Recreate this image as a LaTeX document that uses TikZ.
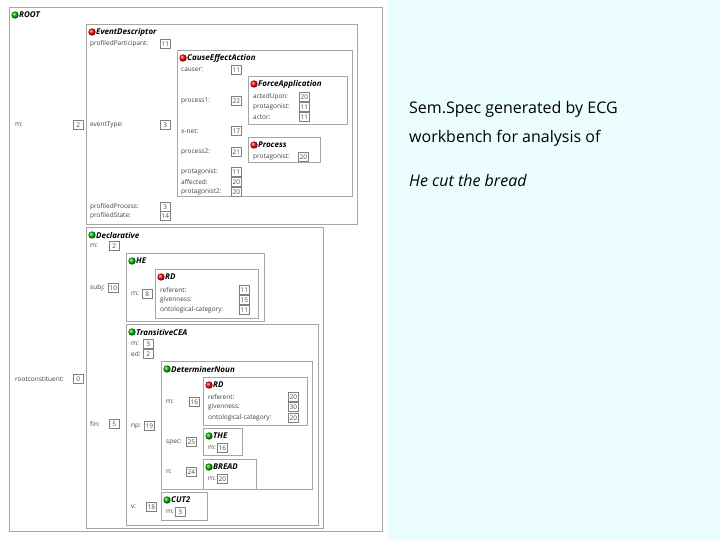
\documentclass[tikz,border=0pt]{standalone}
\usepackage{fontspec}
\setmainfont{Open Sans}
\begin{document}
\begin{tikzpicture}[x=1pt,y=-1pt,
  fbox/.style={draw=black!35,line width=0.8pt},
  lab/.style={anchor=west,inner sep=0pt,font=\fontsize{6.5}{7.5}\selectfont,text=black!75},
  val/.style={anchor=west,draw=black!50,line width=0.6pt,inner sep=1pt,minimum width=10pt,minimum height=8.5pt,font=\fontsize{6.5}{7.5}\selectfont,text=black!70},
  ttl/.style={anchor=west,inner sep=0pt,font=\fontsize{8}{9}\selectfont\bfseries\itshape},
  big/.style={anchor=west,inner sep=0pt,font=\fontsize{16}{19}\selectfont}]
\useasboundingbox (0,0) rectangle (720,540);
\fill[white] (0,0) rectangle (388,540);
\fill[blue!10!cyan!8] (388,0) rectangle (720,540);
\newcommand\frm[6]{% name x1 y1 x2 y2 color
  \draw[fbox] (#2,#3) rectangle (#4,#5);
  \shade[ball color=#6] (#2+6,#3+8) circle (3.7pt);
  \node[ttl] (#1) at (#2+10,#3+8) {#1};}
\newcommand\row[6]{% name x y label vx val
  \node[lab] (#1l) at (#2,#3) {#4};
  \node[val] (#1v) at (#5,#3) {#6};}
% ROOT
\draw[fbox] (9,7) rectangle (382,531);
\shade[ball color=green!70!black] (15,15) circle (3.7pt);
\node[ttl] (ROOT) at (19,15) {ROOT};
\row{rm}{15}{125}{m:}{73}{2}
\row{rc}{15}{379}{rootconstituent:}{73}{0}
% EventDescriptor
\frm{EventDescriptor}{86}{24}{357}{224}{red}
\row{pp}{90}{44}{profiledParticipant:}{160}{11}
\row{et}{90}{125}{eventType:}{160}{3}
\row{pr}{90}{207}{profiledProcess:}{160}{3}
\row{ps}{90}{216}{profiledState:}{160}{14}
\frm{CauseEffectAction}{177}{50}{352}{196}{red}
\row{ca}{181}{70}{causer:}{231}{11}
\row{p1}{181}{101}{process1:}{231}{22}
\row{xn}{181}{131}{x-net:}{231}{17}
\row{p2}{181}{152}{process2:}{231}{21}
\row{pt}{181}{172}{protagonist:}{231}{11}
\row{af}{181}{182}{affected:}{231}{20}
\row{pt2}{181}{192}{protagonist2:}{231}{20}
\frm{ForceApplication}{248}{76}{347}{124}{red}
\row{au}{253}{97}{actedUpon:}{299}{20}
\row{fp}{253}{107}{protagonist:}{299}{11}
\row{ac}{253}{117}{actor:}{299}{11}
\frm{Process}{248}{137}{320}{162}{red}
\row{prp}{253}{157}{protagonist:}{298}{20}
% Declarative
\frm{Declarative}{86}{227}{323}{528}{green!70!black}
\row{dm}{90}{246}{m:}{109}{2}
\row{sj}{90}{288}{subj:}{108}{10}
\row{fn}{90}{424}{fin:}{109}{5}
\frm{HE}{126}{253}{264}{321}{green!70!black}
\row{hm}{131}{294}{m:}{142}{8}
\frm{RD}{155}{269}{258}{318}{red}
\row{r1}{160}{290}{referent:}{239}{11}
\row{r2}{160}{300}{givenness:}{239}{15}
\row{r3}{160}{310}{ontological-category:}{239}{11}
\frm{TransitiveCEA}{126}{324}{318}{525}{green!70!black}
\row{tm}{131}{344}{m:}{143}{3}
\row{te}{131}{354}{ed:}{143}{2}
\row{np}{131}{426}{np:}{144}{19}
\row{tv}{131}{507}{v:}{146}{18}
\frm{DeterminerNoun}{161}{361}{312}{489}{green!70!black}
\row{dn}{166}{402}{m:}{189}{16}
\row{sp}{166}{442}{spec:}{186}{25}
\row{nn}{166}{472}{n:}{186}{24}
\draw[fbox] (203,377) rectangle (307,425);
\shade[ball color=red] (209,385) circle (3.7pt);
\node[ttl] (RDb) at (213,385) {RD};
\row{s1}{208}{397}{referent:}{288}{20}
\row{s2}{208}{407}{givenness:}{288}{30}
\row{s3}{208}{418}{ontological-category:}{288}{20}
\frm{THE}{203}{428}{242}{455}{green!70!black}
\row{thm}{208}{448}{m:}{217}{16}
\frm{BREAD}{203}{459}{256}{489}{green!70!black}
\row{brm}{208}{479}{m:}{217}{20}
\frm{CUT2}{161}{492}{207}{520}{green!70!black}
\row{cum}{166}{512}{m:}{175}{3}
% right text
\node[big] (t1) at (409,109) {Sem.Spec generated by ECG};
\node[big] (t2) at (409,138) {workbench for analysis of};
\node[big,font=\fontsize{16}{19}\selectfont\itshape] (t3) at (409,181) {He cut the bread};
\end{tikzpicture}
\end{document}
